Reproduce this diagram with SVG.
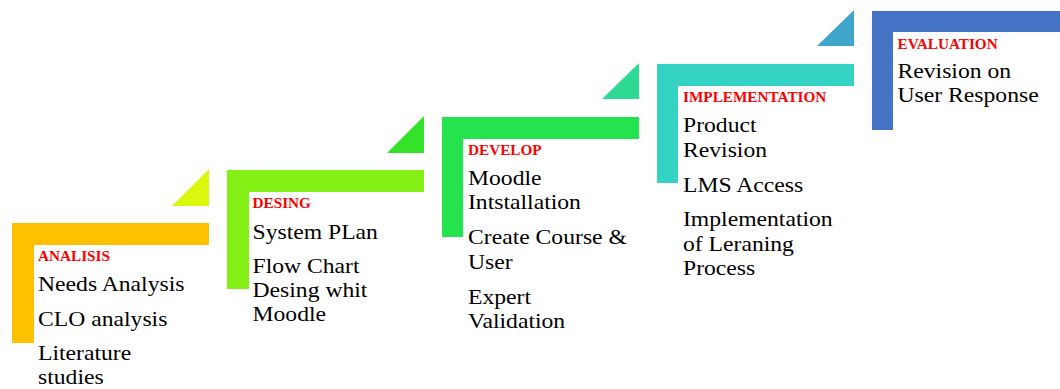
<svg xmlns="http://www.w3.org/2000/svg" width="1060" height="389" viewBox="0 0 1060 389">
<style>
text { font-family: "Liberation Serif", "Times New Roman", serif; }
.hd { font-size: 14px; font-weight: bold; fill: #FF0000; }
.bd { font-size: 21.7px; fill: #000000; }
</style>
<rect width="1060" height="389" fill="#FFFFFF"/>
<g id="connectors">
  <polygon points="172,206 209,169 209,206" fill="#DAF70E"/>
  <polygon points="387,153 424,116 424,153" fill="#34E22A"/>
  <polygon points="602,99 639,63 639,99" fill="#2ED993"/>
  <polygon points="817,46 854,10 854,46" fill="#3FA5C9"/>
</g>
<g id="analisis">
  <path d="M12,223 H209 V245 H34 V343 H12 Z" fill="#FFC000"/>
  <g transform="translate(38,0) scale(1.09,1)">
    <text class="hd" x="0" y="261">ANALISIS</text>
    <text class="bd" x="0" y="291.5">Needs Analysis</text>
    <text class="bd" x="0" y="325.7">CLO analysis</text>
    <text class="bd" x="0" y="360">Literature</text>
    <text class="bd" x="0" y="384">studies</text>
  </g>
</g>
<g id="desing">
  <path d="M227,170 H424 V192 H249 V289 H227 Z" fill="#84F016"/>
  <g transform="translate(252.5,0) scale(1.09,1)">
    <text class="hd" x="0" y="208.5">DESING</text>
    <text class="bd" x="0" y="239">System PLan</text>
    <text class="bd" x="0" y="272.7">Flow Chart</text>
    <text class="bd" x="0" y="297">Desing whit</text>
    <text class="bd" x="0" y="321.5">Moodle</text>
  </g>
</g>
<g id="develop">
  <path d="M442,117 H639 V139 H463 V237 H442 Z" fill="#23E34F"/>
  <g transform="translate(468,0) scale(1.09,1)">
    <text class="hd" x="0" y="155">DEVELOP</text>
    <text class="bd" x="0" y="185">Moodle</text>
    <text class="bd" x="0" y="209.3">Intstallation</text>
    <text class="bd" x="0" y="244.3">Create Course &amp;</text>
    <text class="bd" x="0" y="269.3">User</text>
    <text class="bd" x="0" y="304.3">Expert</text>
    <text class="bd" x="0" y="328.3">Validation</text>
  </g>
</g>
<g id="implementation">
  <path d="M657,64 H854 V86 H678 V183 H657 Z" fill="#35D3C4"/>
  <g transform="translate(683,0) scale(1.09,1)">
    <text class="hd" x="0" y="102.3">IMPLEMENTATION</text>
    <text class="bd" x="0" y="131.7">Product</text>
    <text class="bd" x="0" y="156.7">Revision</text>
    <text class="bd" x="0" y="191.7">LMS Access</text>
    <text class="bd" x="0" y="225.7">Implementation</text>
    <text class="bd" x="0" y="250.7">of Leraning</text>
    <text class="bd" x="0" y="275">Process</text>
  </g>
</g>
<g id="evaluation">
  <path d="M872,11 H1069 V32 H893 V130 H872 Z" fill="#4472C4"/>
  <g transform="translate(897.5,0) scale(1.09,1)">
    <text class="hd" x="0" y="49.3">EVALUATION</text>
    <text class="bd" x="0" y="78.3">Revision on</text>
    <text class="bd" x="0" y="102.3">User Response</text>
  </g>
</g>
</svg>
